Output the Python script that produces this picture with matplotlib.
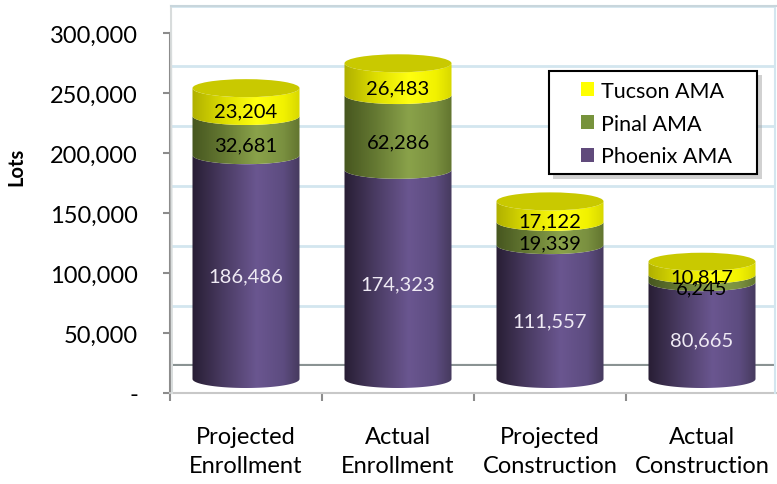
import numpy as np
import matplotlib.pyplot as plt
from matplotlib.path import Path
from matplotlib.patches import PathPatch, Patch, Ellipse, Rectangle
from matplotlib.colors import LinearSegmentedColormap
from matplotlib.transforms import ScaledTranslation

plt.rcParams['font.family'] = ['Lato', 'DejaVu Sans']

# data
categories = ['Projected\nEnrollment', 'Actual\nEnrollment', 'Projected\nConstruction', 'Actual\nConstruction']
phoenix = [186486, 174323, 111557, 80665]
pinal = [32681, 62286, 19339, 6245]
tucson = [23204, 26483, 17122, 10817]
series_names = ['Phoenix AMA', 'Pinal AMA', 'Tucson AMA']
yticks = [0, 50000, 100000, 150000, 200000, 250000, 300000]

W, H = 777, 485
fig = plt.figure(figsize=(W / 100, H / 100), dpi=100)


def px_axes(x0, y0, x1, y1, **kw):
    # axes placed by pixel box (top-left origin)
    return fig.add_axes([x0 / W, 1 - y1 / H, (x1 - x0) / W, (y1 - y0) / H], **kw)


def px_rect(x0, y0, x1, y1, **kw):
    return Rectangle((x0 / W, 1 - y1 / H), (x1 - x0) / W, (y1 - y0) / H,
                     transform=fig.transFigure, **kw)


# back wall with gridlines
wall = px_axes(172, 7, 775, 367, zorder=0)
wall.set_xlim(0, 1)
wall.set_ylim(0, 300000)
for v in yticks[1:]:
    wall.axhline(v, color='#d3e6ef', lw=2)
wall.axhline(0, color='#8a9393', lw=3)
wall.axis('off')
fig.add_artist(plt.Line2D([775 / W, 775 / W], [1 - 7 / H, 1 - 394 / H], color='#d3e6ef', lw=1.5))
fig.add_artist(plt.Line2D([171 / W, 172 / W], [1 - 7 / H, 1 - 394 / H], color='#d8dcdc', lw=1.5))
fig.add_artist(plt.Line2D([171 / W, 777 / W], [1 - 7 / H, 1 - 7 / H], color='#c8d6dc', lw=1.5))

# front axis (ticks and labels)
yax = px_axes(170, 34, 778, 394, zorder=1)
yax.set_facecolor('none')
yax.set_ylim(0, 300000)
yax.set_xlim(-0.5, 3.5)
yax.set_yticks(yticks)
yax.set_yticklabels(['-'] + ['{:,}'.format(v) for v in yticks[1:]], fontsize=17)
yax.get_yticklabels()[0].set_transform(yax.get_yticklabels()[0].get_transform()
                                       + ScaledTranslation(-0.12, 0, fig.dpi_scale_trans))
yax.set_xticks(range(len(categories)))
yax.set_xticklabels(categories, fontsize=17, linespacing=1.45)
yax.set_xticks(np.arange(-0.5, 3.5, 1), minor=True)
yax.tick_params(axis='x', which='major', length=0, pad=24)
yax.tick_params(axis='x', which='minor', length=6, width=1.5, color='#8c8c8c')
yax.tick_params(axis='y', length=5, width=1.5, color='#8c8c8c', pad=18)
for s in ['top', 'right']:
    yax.spines[s].set_visible(False)
yax.spines['left'].set_color('#8c8c8c')
yax.spines['left'].set_linewidth(1.5)
yax.spines['bottom'].set_color('#c8c8c8')
yax.spines['bottom'].set_linewidth(1.5)
yax.set_ylabel('Lots', fontsize=14.5, fontweight='bold')
yax.yaxis.set_label_coords(-0.236, 0.63)

# bars (3D cylinders)
ax = px_axes(170, 20, 778, 404, zorder=2)
ax.set_xlim(-0.5, 3.5)
ax.set_ylim(-20000, 300000)
ax.axis('off')

half_w = 0.352
half_h = 7500

grads = {
    'Phoenix AMA': ['#281e34', '#4b3c64', '#6a5690', '#5d4c80', '#463a5e'],
    'Pinal AMA': ['#46561f', '#667a33', '#8aa24a', '#7a9040', '#62752f'],
    'Tucson AMA': ['#b0b000', '#dede00', '#ffff10', '#f2f200', '#d8d800'],
}
label_colors = {'Phoenix AMA': '#efeaf4', 'Pinal AMA': 'black', 'Tucson AMA': 'black'}


def front_arc(xc, y, n=60):
    t = np.linspace(np.pi, 2 * np.pi, n)
    return xc + half_w * np.cos(t), y + half_h * np.sin(t)


def segment(xc, y0, y1, colors):
    bx, by = front_arc(xc, y0)
    tx, ty = front_arc(xc, y1)
    verts = list(zip(bx, by)) + list(zip(tx[::-1], ty[::-1]))
    path = Path(verts + [verts[0]], [Path.MOVETO] + [Path.LINETO] * (len(verts) - 1) + [Path.CLOSEPOLY])
    patch = PathPatch(path, facecolor='none', edgecolor='none')
    ax.add_patch(patch)
    cmap = LinearSegmentedColormap.from_list('g', list(zip([0, 0.3, 0.6, 0.85, 1], colors)))
    im = ax.imshow(np.linspace(0, 1, 200).reshape(1, -1), cmap=cmap, aspect='auto',
                   extent=(xc - half_w, xc + half_w, y0 - half_h, y1 + half_h), zorder=2)
    im.set_clip_path(patch)


stacks = [phoenix, pinal, tucson]
for i in range(len(categories)):
    base = 0
    for name, vals in zip(series_names, stacks):
        v = vals[i]
        segment(i, base, base + v, grads[name])
        ax.annotate('{:,}'.format(v), (i, base + v / 2), xytext=(0, -9), textcoords='offset pixels',
                    ha='center', va='center', fontsize=14.5, color=label_colors[name], zorder=5)
        base += v
    ax.add_patch(Ellipse((i, base), 2 * half_w, 2 * half_h, facecolor='#c9c900',
                         edgecolor='none', zorder=3))

ax.set_xlim(-0.5, 3.5)
ax.set_ylim(-20000, 300000)

# legend box with shadow
fig.add_artist(px_rect(553, 76, 762, 180, facecolor='#9a9a9a', edgecolor='none', alpha=0.45, zorder=9))
fig.add_artist(px_rect(549, 72, 757, 175, facecolor='white', edgecolor='black', lw=1.5, zorder=10))
handles = [Patch(facecolor=c, edgecolor='none', label=n)
           for n, c in zip(['Tucson AMA', 'Pinal AMA', 'Phoenix AMA'], ['#ffff00', '#77933c', '#604a7b'])]
leg = fig.legend(handles=handles, loc='upper left', bbox_to_anchor=(572 / W, 1 - 73 / H),
                 fontsize=15.5, frameon=False, handlelength=0.62, handleheight=0.62, handletextpad=0.35,
                 labelspacing=0.6, borderpad=0.4, borderaxespad=0)
leg.set_zorder(11)

fig.savefig('out.png', dpi=100)
